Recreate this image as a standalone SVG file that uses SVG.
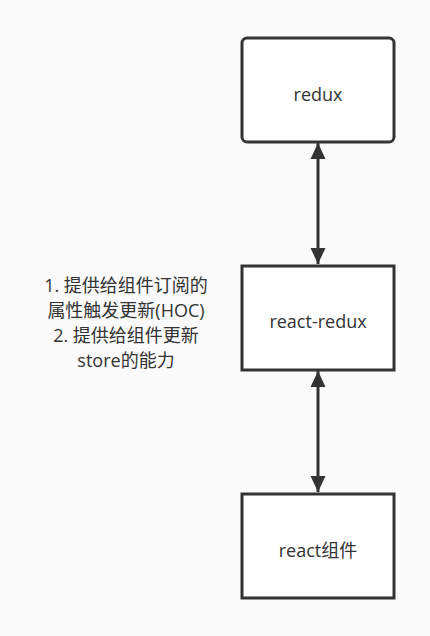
<svg xmlns="http://www.w3.org/2000/svg" width="430" height="636" viewBox="0 0 430 636">
<style>
.box{fill:#ffffff;stroke:#333333;stroke-width:3}
.lbl{font-family:"Open Sans","Noto Sans CJK SC",sans-serif;font-size:18px;fill:#333333;text-anchor:middle}
.con{stroke:#333333;stroke-width:3;fill:none}
</style>
<defs>
<marker id="ah" viewBox="0 0 16 22" refX="16" refY="11" markerWidth="16" markerHeight="22" markerUnits="userSpaceOnUse" orient="auto-start-reverse">
<path d="M0,3.5 L22,11 L0,18.5 Z" fill="#333333" transform="scale(0.727,1)"/>
</marker>
</defs>
<rect width="430" height="636" fill="#fafafa"/>
<g id="connectors">
<line class="con" x1="318" y1="143" x2="318" y2="264" marker-start="url(#ah)" marker-end="url(#ah)"/>
<line class="con" x1="318" y1="371" x2="318" y2="492" marker-start="url(#ah)" marker-end="url(#ah)"/>
</g>
<g id="redux">
<rect class="box" x="242" y="38" width="152" height="104" rx="5"/>
<text class="lbl" x="318" y="101">redux</text>
</g>
<g id="react-redux">
<rect class="box" x="242" y="266" width="152" height="104"/>
<text class="lbl" x="318" y="328">react-redux</text>
</g>
<g id="react-component">
<rect class="box" x="242" y="494" width="152" height="104"/>
<text class="lbl" x="318" y="557">react组件</text>
</g>
<g id="note">
<text class="lbl" x="126" y="292">1. 提供给组件订阅的</text>
<text class="lbl" x="126" y="317">属性触发更新(HOC)</text>
<text class="lbl" x="126" y="342">2. 提供给组件更新</text>
<text class="lbl" x="126" y="367">store的能力</text>
</g>
</svg>
